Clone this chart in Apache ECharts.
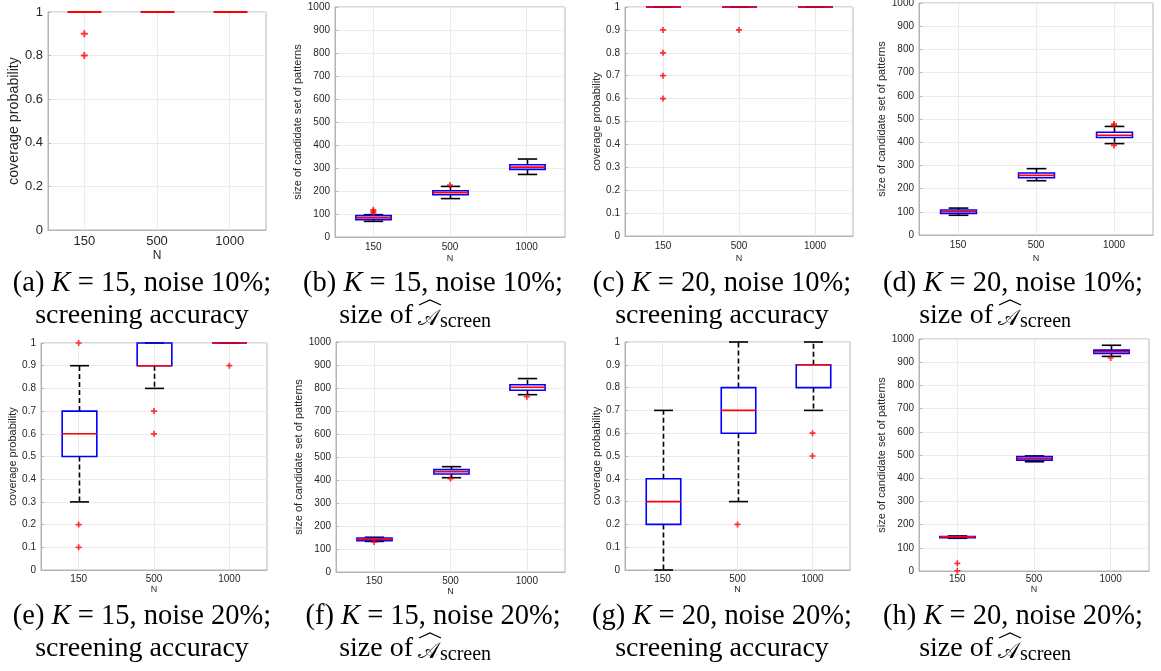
<!DOCTYPE html>
<html><head><meta charset="utf-8">
<script src="https://cdn.jsdelivr.net/npm/echarts@6/dist/echarts.min.js"></script>
<style>html,body{margin:0;padding:0;background:#fff}#c{width:1161px;height:671px}</style>
</head><body><div id="c"></div>
<script>
// ---------- data ----------
const categories = ['150', '500', '1000'];
// each box: [lower whisker, Q1, median, Q3, upper whisker]
const boxA = [[1, 1, 1, 1, 1], [1, 1, 1, 1, 1], [1, 1, 1, 1, 1]];
const outA = [[0, 0.9], [0, 0.8]];
const boxB = [[68, 75, 83, 93, 97], [167, 184, 193, 201, 220], [272, 294, 304, 314, 339]];
const outB = [[0, 105], [0, 112], [0, 118], [1, 226]];
const boxC = [[1, 1, 1, 1, 1], [1, 1, 1, 1, 1], [1, 1, 1, 1, 1]];
const outC = [[0, 0.9], [0, 0.8], [0, 0.7], [0, 0.6], [1, 0.9]];
const boxD = [[85, 93, 101, 108, 116], [234, 247, 257, 267, 286], [394, 420, 430, 443, 468]];
const outD = [[2, 472], [2, 478], [2, 386]];
const boxE = [[0.3, 0.5, 0.6, 0.7, 0.9], [0.8, 0.9, 0.9, 1, 1], [1, 1, 1, 1, 1]];
const outE = [[0, 1], [0, 0.2], [0, 0.1], [1, 0.7], [1, 0.6], [2, 0.9]];
const boxF = [[133, 136, 142, 148, 151], [410, 426, 436, 445, 458], [771, 790, 803, 814, 841]];
const outF = [[0, 130], [1, 406], [2, 762]];
const boxG = [[0, 0.2, 0.3, 0.4, 0.7], [0.3, 0.6, 0.7, 0.8, 1], [0.7, 0.8, 0.9, 0.9, 1]];
const outG = [[1, 0.2], [2, 0.6], [2, 0.5]];
const boxH = [[141, 143, 147, 149, 151], [471, 478, 486, 493, 496], [925, 938, 945, 952, 973]];
const outH = [[0, 33], [0, 1], [2, 918]];

const captionLetters = ['a', 'b', 'c', 'd', 'e', 'f', 'g', 'h'];
const captionK = [15, 15, 20, 20, 15, 15, 20, 20];
const captionNoise = [10, 10, 10, 10, 20, 20, 20, 20];
const yNameAcc = 'coverage probability';
const yNameSize = 'size of candidate set of patterns';
const xName = 'N';

// ---------- layout ----------
const panels = [
  {box: boxA, out: outA, left: 48, top: 12, w: 218, h: 218, yMax: 1, yInt: 0.2, yName: yNameAcc, tf: 13, nf: 14.3, xnf: 12, yGap: 24, xGap: 20, xm: 5, lw: 2, ms: 7},
  {box: boxB, out: outB, left: 335, top: 7, w: 230, h: 230, yMax: 1000, yInt: 100, yName: yNameSize, tf: 10, nf: 11, xnf: 9, yGap: 28, xGap: 17, xm: 5, lw: 1.6, ms: 6},
  {box: boxC, out: outC, left: 625, top: 7, w: 228, h: 229, yMax: 1, yInt: 0.1, yName: yNameAcc, tf: 10, nf: 11, xnf: 9, yGap: 20, xGap: 18, xm: 5, lw: 1.6, ms: 6},
  {box: boxD, out: outD, left: 919, top: 3, w: 234, h: 232, yMax: 1000, yInt: 100, yName: yNameSize, tf: 10, nf: 11, xnf: 9, yGap: 28, xGap: 19, xm: 5, lw: 1.6, ms: 6},
  {box: boxE, out: outE, left: 41, top: 343, w: 226, h: 227, yMax: 1, yInt: 0.1, yName: yNameAcc, tf: 10, nf: 11, xnf: 9, yGap: 19, xGap: 13, xm: 4, lw: 1.6, ms: 6},
  {box: boxF, out: outF, left: 336, top: 342, w: 229, h: 230, yMax: 1000, yInt: 100, yName: yNameSize, tf: 10, nf: 11, xnf: 9, yGap: 28, xGap: 12, xm: 4, lw: 1.6, ms: 6},
  {box: boxG, out: outG, left: 625, top: 342, w: 225, h: 228, yMax: 1, yInt: 0.1, yName: yNameAcc, tf: 10, nf: 11, xnf: 9, yGap: 21, xGap: 13, xm: 4, lw: 1.6, ms: 6},
  {box: boxH, out: outH, left: 919, top: 339, w: 230, h: 232, yMax: 1000, yInt: 100, yName: yNameSize, tf: 10, nf: 11, xnf: 9, yGap: 28, xGap: 12, xm: 3, lw: 1.6, ms: 6}
];

const sans = '"Liberation Sans", Arial, Helvetica, sans-serif';
const serif = '"Liberation Serif", "Times New Roman", serif';
const axisGrey = '#b4b4b4';
const textDark = '#262626';
const plusPath = 'path://M3.6,0H6.4V3.6H10V6.4H6.4V10H3.6V6.4H0V3.6H3.6Z';

function makeRender(p) {
  return function (params, api) {
    const i = api.value(0);
    const lo = api.coord([i, api.value(1)]);
    const q1 = api.coord([i, api.value(2)]);
    const md = api.coord([i, api.value(3)]);
    const q3 = api.coord([i, api.value(4)]);
    const hi = api.coord([i, api.value(5)]);
    const band = api.size([1, 0])[0];
    const bw = band * 0.46, cw = bw * 0.55, x = Math.round(lo[0]) + 0.5;
    const lw = p.lw;
    return {
      type: 'group',
      children: [
        {type: 'line', shape: {x1: x, y1: q3[1], x2: x, y2: hi[1]}, style: {stroke: '#000', lineWidth: lw, lineDash: [5, 3]}},
        {type: 'line', shape: {x1: x, y1: q1[1], x2: x, y2: lo[1]}, style: {stroke: '#000', lineWidth: lw, lineDash: [5, 3]}},
        {type: 'line', shape: {x1: x - cw / 2, y1: hi[1], x2: x + cw / 2, y2: hi[1]}, style: {stroke: '#000', lineWidth: lw}},
        {type: 'line', shape: {x1: x - cw / 2, y1: lo[1], x2: x + cw / 2, y2: lo[1]}, style: {stroke: '#000', lineWidth: lw}},
        {type: 'rect', shape: {x: x - bw / 2, y: q3[1], width: bw, height: q1[1] - q3[1]}, style: {fill: 'none', stroke: '#0000ff', lineWidth: lw}},
        {type: 'line', shape: {x1: x - bw / 2, y1: md[1], x2: x + bw / 2, y2: md[1]}, style: {stroke: '#ff0000', lineWidth: lw}}
      ]
    };
  };
}

const grids = [], xAxes = [], yAxes = [], series = [];
panels.forEach((p, k) => {
  grids.push({left: p.left, top: p.top, width: p.w, height: p.h, show: true, borderColor: axisGrey, borderWidth: 1,
    backgroundColor: '#fff', containLabel: false, outerBoundsMode: 'none'});
  xAxes.push({
    type: 'category', gridIndex: k, data: categories, boundaryGap: true,
    name: xName, nameLocation: 'middle', nameGap: p.xGap,
    nameTextStyle: {fontSize: p.xnf, color: textDark, fontFamily: sans},
    axisLine: {show: true, lineStyle: {color: axisGrey}},
    axisTick: {show: true, inside: true, alignWithLabel: true, length: 3, lineStyle: {color: axisGrey}},
    axisLabel: {fontSize: p.tf, color: textDark, fontFamily: sans, margin: p.xm},
    splitLine: {show: false}
  });
  yAxes.push({
    type: 'value', gridIndex: k, min: 0, max: p.yMax, interval: p.yInt,
    name: p.yName, nameLocation: 'middle', nameGap: p.yGap, nameRotate: 90,
    nameTextStyle: {fontSize: p.nf, color: textDark, fontFamily: sans},
    axisLine: {show: true, lineStyle: {color: axisGrey}},
    axisTick: {show: true, inside: true, length: 3, lineStyle: {color: axisGrey}},
    axisLabel: {fontSize: p.tf, color: textDark, fontFamily: sans, margin: 5,
      formatter: v => String(Math.round(v * 100) / 100)},
    splitLine: {show: true, lineStyle: {color: '#ebebeb', width: 1}}
  });
  series.push({
    type: 'scatter', xAxisIndex: k, yAxisIndex: k, data: p.out, symbol: plusPath, symbolSize: p.ms,
    itemStyle: {color: '#ff0000'}, z: 4, silent: true, animation: false
  });
  series.push({
    type: 'custom', xAxisIndex: k, yAxisIndex: k, renderItem: makeRender(p), z: 3, silent: true, animation: false,
    data: p.box.map((b, i) => [i].concat(b)), encode: {x: 0, y: [1, 2, 3, 4, 5]},
    markLine: {silent: true, symbol: 'none', label: {show: false}, animation: false, z: 1,
      lineStyle: {color: '#ebebeb', width: 1, type: 'solid'},
      data: categories.map((c, i) => ({xAxis: i}))}
  });
});

// ---------- captions ----------
const colCenters = [142, 433, 722, 1013];
const rowY = [284, 617];
const graphics = [];
captionLetters.forEach((L, k) => {
  const col = k % 4, row = Math.floor(k / 4);
  const cx = colCenters[col], y1 = rowY[row], y2 = y1 + 32;
  graphics.push({type: 'text', x: cx, y: y1, silent: true, style: {
    text: '{t|(' + L + ') }{i|K}{t| = ' + captionK[k] + ', noise ' + captionNoise[k] + '%;}',
    rich: {t: {fontFamily: serif, fontSize: 28.5, fill: '#000'}, i: {fontFamily: serif, fontSize: 28.5, fontStyle: 'italic', fill: '#000'}},
    align: 'center', verticalAlign: 'middle', fill: '#000'}});
  if (col % 2 === 0) {
    graphics.push({type: 'text', x: cx, y: y2, silent: true, style: {
      text: 'screening accuracy', font: '28px ' + serif, fill: '#000', align: 'center', verticalAlign: 'middle'}});
  } else {
    const x0 = cx - 20;
    graphics.push({type: 'text', x: x0, y: y2, silent: true, style: {
      text: 'size of', font: '28px ' + serif, fill: '#000', align: 'right', verticalAlign: 'middle'}});
    graphics.push({type: 'text', x: x0 + 5, y: y2 + 3, silent: true, style: {
      text: '\uD835\uDC9C', font: '22px ' + serif, fill: '#000', align: 'left', verticalAlign: 'middle'}});
    graphics.push({type: 'text', x: x0 + 27, y: y2 + 6, silent: true, style: {
      text: 'screen', font: '20px ' + serif, fill: '#000', align: 'left', verticalAlign: 'middle'}});
    graphics.push({type: 'polyline', silent: true, shape: {points: [[x0 + 6, y2 - 11], [x0 + 17, y2 - 16], [x0 + 28, y2 - 11]]},
      style: {stroke: '#000', lineWidth: 1.2, fill: 'none'}});
  }
});

const chart = echarts.init(document.getElementById('c'), null, {renderer: 'canvas'});
chart.setOption({
  animation: false,
  backgroundColor: '#ffffff',
  grid: grids, xAxis: xAxes, yAxis: yAxes, series: series,
  graphic: graphics
});
</script></body></html>
